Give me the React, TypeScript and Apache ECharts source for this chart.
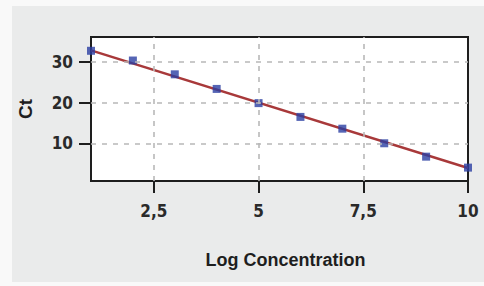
import React, { useEffect, useRef } from "react";
import * as echarts from "echarts";

const logConc = [1, 2, 3, 4, 5, 6, 7, 8, 9, 10];
const ctValues = [32.8, 30.4, 27.0, 23.4, 19.9, 16.5, 13.6, 10.0, 6.7, 4.0];
const fitX = [1, 10];
const fitY = [32.9, 3.9];
const xTicks = [2.5, 5, 7.5, 10];
const yTicks = [10, 20, 30];
const xGrid = [2.5, 5, 7.5];
const yGrid = [10, 20, 30];

export default function App() {
  const ref = useRef<HTMLDivElement>(null);
  useEffect(() => {
    if (!ref.current) return;
    const chart = echarts.init(ref.current, null, { renderer: "svg" });
    const dark = "#1e1e1e";
    const fmt = (v: number) => String(v).replace(".", ",");
    chart.setOption({
      animation: false,
      backgroundColor: "#f9f9f9",
      graphic: [
        {
          type: "rect",
          z: -10,
          shape: { x: 12, y: 6, width: 472, height: 276 },
          style: { fill: "#eaebeb" },
          silent: true,
        },
      ],
      grid: {
        left: 91,
        top: 37,
        width: 377,
        height: 144,
        show: true,
        backgroundColor: "#ffffff",
        borderColor: dark,
        borderWidth: 2,
      },
      xAxis: {
        type: "value",
        min: 1,
        max: 10,
        name: "Log Concentration",
        nameLocation: "middle",
        nameGap: 70,
        nameTextStyle: {
          fontFamily: "Liberation Sans",
          fontWeight: "bold",
          fontSize: 18,
          color: dark,
          padding: [0, 0, 0, 12],
        },
        axisLine: { show: true, lineStyle: { color: dark, width: 2 } },
        axisTick: {
          show: true,
          inside: false,
          length: 12,
          lineStyle: { color: dark, width: 2 },
          customValues: xTicks,
        },
        axisLabel: {
          customValues: xTicks,
          formatter: (v: number) => fmt(v),
          fontFamily: "DejaVu Sans Condensed",
          fontWeight: "bold",
          fontSize: 17,
          color: "#2a2a2a",
          margin: 21,
        },
        splitLine: { show: false },
      },
      yAxis: {
        type: "value",
        min: 0.7,
        max: 36.2,
        name: "Ct",
        nameLocation: "middle",
        nameGap: 56,
        nameRotate: 90,
        nameTextStyle: {
          fontFamily: "Liberation Sans",
          fontWeight: "bold",
          fontSize: 19,
          color: dark,
        },
        axisLine: { show: true, lineStyle: { color: dark, width: 2 } },
        axisTick: {
          show: true,
          inside: false,
          length: 12,
          lineStyle: { color: dark, width: 2 },
          customValues: yTicks,
        },
        axisLabel: {
          customValues: yTicks,
          fontFamily: "DejaVu Sans Condensed",
          fontWeight: "bold",
          fontSize: 17,
          color: "#2a2a2a",
          margin: 18,
        },
        splitLine: { show: false },
      },
      series: [
        {
          type: "line",
          data: fitX.map((x, i) => [x, fitY[i]]),
          showSymbol: false,
          symbol: "none",
          lineStyle: { color: "#a8393a", width: 2.4 },
          z: 3,
          markLine: {
            silent: true,
            symbol: "none",
            label: { show: false },
            lineStyle: { color: "#b8b8b8", type: [5, 6], width: 1.6 },
            data: [
              ...xGrid.map((v) => ({ xAxis: v })),
              ...yGrid.map((v) => ({ yAxis: v })),
            ],
          },
        },
        {
          type: "scatter",
          data: logConc.map((x, i) => [x, ctValues[i]]),
          symbol: "rect",
          symbolSize: 8,
          itemStyle: { color: "#2b3ea3" },
          z: 4,
        },
      ],
    });
    return () => chart.dispose();
  }, []);
  return (
    <div
      ref={ref}
      style={{ position: "fixed", left: 0, top: 0, width: 484, height: 286 }}
    />
  );
}
